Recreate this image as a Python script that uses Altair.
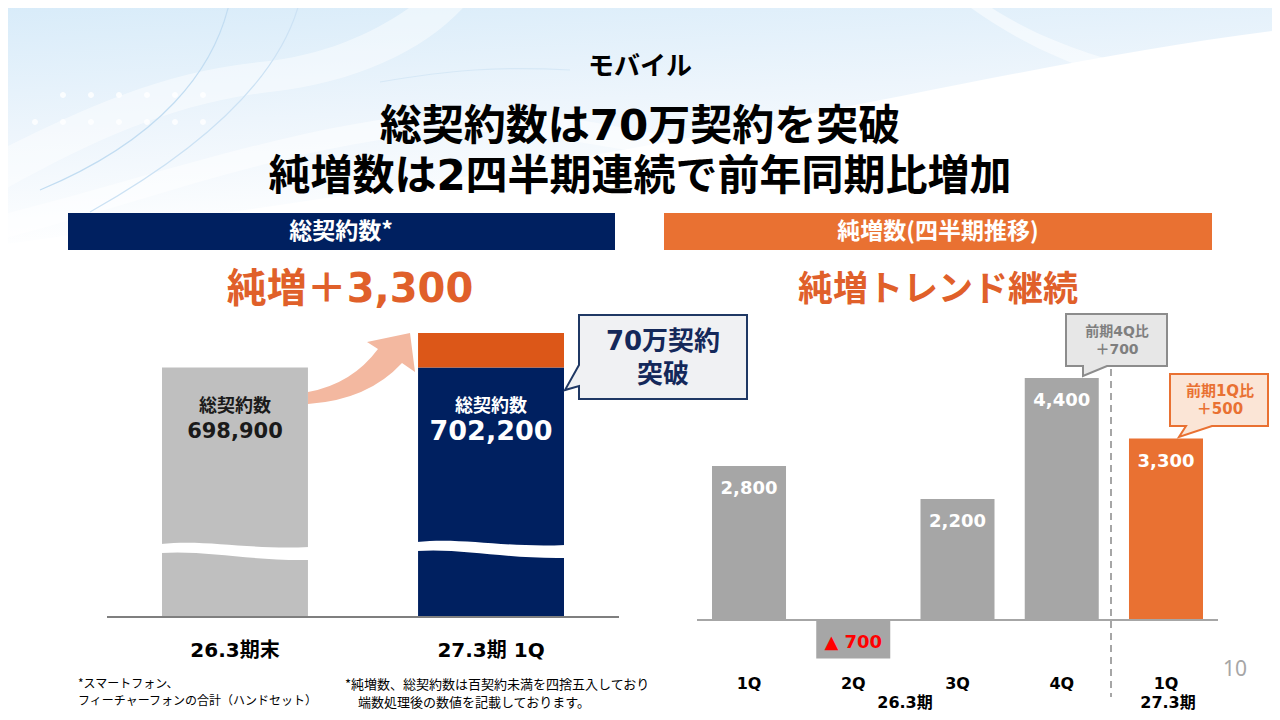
import altair as alt
import pandas as pd

# ---------------- data ----------------
total_categories = ["26.3期末", "27.3期 1Q"]
total_contracts = [698900, 702200]
total_name = "総契約数"
net_add_total = 3300

quarter_keys = ["26.3期 1Q", "26.3期 2Q", "26.3期 3Q", "26.3期 4Q", "27.3期 1Q"]
quarter_labels = ["1Q", "2Q", "3Q", "4Q", "1Q"]
quarter_fiscal = ["26.3期", "26.3期", "26.3期", "26.3期", "27.3期"]
net_adds = [2800, -700, 2200, 4400, 3300]

fiscal_groups = ["26.3期", "27.3期"]
callout_total = ["70万契約", "突破"]
callout_4q = ["前期4Q比", "＋700"]
callout_1q = ["前期1Q比", "＋500"]

# ---------------- helpers ----------------
JP = "Noto Sans CJK JP"
MIX = "DejaVu Sans, Noto Sans CJK JP"
OFF = 8  # page margin


def sx(v):
    return v - OFF


DUMMY = alt.Data(values=[{}])


def shape(path, fill="white", stroke=None, sw=0, opacity=1.0, filled=True):
    kw = dict(shape=path, size=4, opacity=1, fillOpacity=opacity if filled else 0)
    if filled:
        kw["filled"] = True
        kw["fill"] = fill
    else:
        kw["filled"] = False
    if stroke:
        kw.update(stroke=stroke, strokeWidth=sw, strokeOpacity=1)
    else:
        kw.update(strokeOpacity=0)
    return alt.Chart(DUMMY).mark_point(**kw).encode(x=alt.value(-OFF), y=alt.value(-OFF))


def label(text, x, y, size, color="#000000", weight="bold", font=JP, align="center"):
    return alt.Chart(alt.Data(values=[{"t": text}])).mark_text(
        font=font, fontSize=size, fontWeight=weight, color=color,
        align=align, baseline="middle"
    ).encode(x=alt.value(sx(x)), y=alt.value(sx(y)), text="t:N")


def rect(x0, y0, x1, y1, color):
    return alt.Chart(DUMMY).mark_rect(color=color).encode(
        x=alt.value(sx(x0)), x2=alt.value(sx(x1)),
        y=alt.value(sx(y0)), y2=alt.value(sx(y1)))


def hrule(x0, x1, y, color, width=2, dash=None):
    kw = dict(color=color, strokeWidth=width)
    if dash:
        kw["strokeDash"] = dash
    return alt.Chart(DUMMY).mark_rule(**kw).encode(
        x=alt.value(sx(x0)), x2=alt.value(sx(x1)), y=alt.value(sx(y)))


def vrule(x, y0, y1, color, width=2, dash=None):
    kw = dict(color=color, strokeWidth=width)
    if dash:
        kw["strokeDash"] = dash
    return alt.Chart(DUMMY).mark_rule(**kw).encode(
        x=alt.value(sx(x)), y=alt.value(sx(y0)), y2=alt.value(sx(y1)))


def wave(x0, x1, y0):
    w = x1 - x0
    return (f"M{x0-1},{y0+1} C{x0+0.3*w},{y0-4} {x0+0.6*w},{y0+7} {x1+1},{y0+4} "
            f"L{x1+1},{y0+17} C{x0+0.6*w},{y0+18} {x0+0.3*w},{y0+7} {x0-1},{y0+10} Z")


# ---------------- background ----------------
bg_grad = alt.LinearGradient(
    gradient="linear", x1=0, y1=0, x2=0.3, y2=1,
    stops=[alt.GradientStop(color="#D7EBF9", offset=0),
           alt.GradientStop(color="#EDF5FC", offset=0.5),
           alt.GradientStop(color="#FFFFFF", offset=0.95)])
bg = [
    shape("M0,0 L1280,0 L1280,30 C1120,50 960,85 780,120 C560,165 320,200 0,245 Z", fill=bg_grad),
    shape("M0,150 C80,110 160,72 260,62 C330,55 380,30 420,0 L470,0 C430,48 360,82 270,92 "
          "C170,104 90,142 0,192 Z", fill="#FFFFFF", opacity=0.45),
    shape("M0,215 C150,178 300,122 450,112 C560,104 640,140 780,150 L780,168 C640,162 560,128 450,132 "
          "C300,142 150,200 0,240 Z", fill="#FFFFFF", opacity=0.5),
    shape("M980,0 C1040,42 1120,72 1280,92 L1280,110 C1110,90 1030,52 960,0 Z", fill="#FFFFFF", opacity=0.5),
    shape("M230,0 C215,70 160,140 40,190", stroke="#C2DDF2", sw=1.2, filled=False),
    shape("M300,0 C280,80 200,150 90,212", stroke="#CCE2F4", sw=1.2, filled=False),
    shape("M380,82 C450,70 500,66 570,70", stroke="#D6E8F6", sw=1.2, filled=False),
    shape(" ".join(f"M{x},{y} m-3,0 a3,3 0 1,0 6,0 a3,3 0 1,0 -6,0"
                   for y, xs in [(95, range(63, 215, 28)), (122, range(35, 215, 28))] for x in xs),
          fill="#FFFFFF", opacity=0.8),
]

# ---------------- headings ----------------
heads = [
    label("モバイル", 640, 67, 26),
    label("総契約数は70万契約を突破", 640, 127, 42, font=MIX),
    label("純増数は2四半期連続で前年同期比増加", 640, 177, 42, font=MIX),
    rect(68, 213, 615, 250, "#002060"),
    rect(664, 213, 1212, 250, "#E97132"),
    label("総契約数*", 341, 232, 23, color="#FFFFFF"),
    label("純増数(四半期推移)", 938, 232, 23, color="#FFFFFF"),
    label("純増＋3,300", 350, 290, 40, color="#E0602A", font=MIX),
    label("純増トレンド継続", 938, 290, 35, color="#E0602A"),
]

# ---------------- left: total contracts ----------------
FLOOR = 675000  # broken-axis lower bound
L_X = alt.Scale(type="band", domain=total_categories, range=[sx(162), sx(564)],
                paddingInner=0.43, paddingOuter=0)
L_Y = alt.Scale(domain=[FLOOR, total_contracts[1]], range=[sx(617), sx(333)], zero=False, nice=False)

prev_level = total_contracts[1] - net_add_total
left_df = pd.DataFrame([
    {"cat": total_categories[0], "seg": "prev", "lo": FLOOR, "hi": total_contracts[0]},
    {"cat": total_categories[1], "seg": "base", "lo": FLOOR, "hi": prev_level},
    {"cat": total_categories[1], "seg": "add", "lo": prev_level, "hi": total_contracts[1]},
])
left_lab = pd.DataFrame({"cat": total_categories, "anchor": [total_contracts[0], prev_level],
                         "total": total_contracts, "name": [total_name] * 2})

lx = alt.X("cat:N", scale=L_X, axis=None)
ly = alt.Y("anchor:Q", scale=L_Y, axis=None)
left_bars = alt.Chart(left_df).mark_bar().encode(
    x=lx,
    y=alt.Y("hi:Q", scale=L_Y, axis=None),
    y2="lo:Q",
    color=alt.Color("seg:N", scale=alt.Scale(domain=["prev", "base", "add"],
                                             range=["#BFBFBF", "#002060", "#DC5718"]), legend=None),
)
lab_color = alt.Color("cat:N", scale=alt.Scale(domain=total_categories, range=["#1A1A1A", "#FFFFFF"]), legend=None)
left_names = alt.Chart(left_lab).mark_text(font=JP, fontSize=18, fontWeight="bold", dy=40, baseline="middle").encode(
    x=lx, y=ly, text="name:N", color=lab_color)
left_vals = alt.Chart(left_lab).mark_text(font=MIX, fontWeight="bold", dy=65, baseline="middle").encode(
    x=lx, y=ly, text=alt.Text("total:Q", format=","), color=lab_color,
    size=alt.Size("cat:N", scale=alt.Scale(domain=total_categories, range=[21, 27]), legend=None))
left_cats = alt.Chart(left_lab).mark_text(font=MIX, fontSize=20, fontWeight="bold", color="#000000",
                                          baseline="middle").encode(
    x=lx, y=alt.value(sx(651)), text="cat:N")

left = [
    left_bars,
    shape(wave(162, 308, 543)),
    shape(wave(418, 564, 541)),
    hrule(107, 619, 617, "#7F7F7F"),
    left_names, left_vals, left_cats,
    shape("M308,392 Q352,384 378,349 L367,342 L410,333 L415,372 L402,363 Q368,400 308,404 Z", fill="#F3B8A0"),
    shape("M579,315 L747,315 L747,399 L579,399 L579,386 L565,390 L579,365 Z",
          fill="#F0F1F3", stroke="#1F3864", sw=2),
    label(callout_total[0], 663, 342, 26, color="#14285A", font=MIX),
    label(callout_total[1], 663, 375, 26, color="#14285A"),
]

# ---------------- right: quarterly net adds ----------------
R_X = alt.Scale(type="band", domain=quarter_keys, range=[sx(712), sx(1203)],
                paddingInner=0.29, paddingOuter=0)
R_Y = alt.Scale(domain=[min(net_adds), max(net_adds)], range=[sx(658.5), sx(378)], zero=False, nice=False)

right_df = pd.DataFrame({"key": quarter_keys, "q": quarter_labels, "fy": quarter_fiscal, "v": net_adds})
right_df["label"] = [f"{v:,}" if v >= 0 else f"▲ {abs(v):,}" for v in net_adds]

rx = alt.X("key:N", scale=R_X, axis=None)
ry = alt.Y("v:Q", scale=R_Y, axis=None)
right_bars = alt.Chart(right_df).mark_bar().encode(
    x=rx, y=ry, y2=alt.datum(0),
    color=alt.Color("fy:N", scale=alt.Scale(domain=fiscal_groups, range=["#A6A6A6", "#E97132"]), legend=None))
pos_lab = alt.Chart(right_df).transform_filter("datum.v >= 0").mark_text(
    font=MIX, fontSize=18, fontWeight="bold", color="#FFFFFF", dy=23, baseline="middle").encode(
    x=rx, y=ry, text="label:N")
neg_lab = alt.Chart(right_df).transform_filter("datum.v < 0").mark_text(
    font=MIX, fontSize=18, fontWeight="bold", color="#FF0000", dy=-16, baseline="middle").encode(
    x=rx, y=ry, text="label:N")
q_lab = alt.Chart(right_df).mark_text(font=MIX, fontSize=16, fontWeight="bold", color="#000000",
                                      baseline="middle").encode(x=rx, y=alt.value(sx(684)), text="q:N")

right = [
    right_bars,
    hrule(697, 1218, 620, "#A6A6A6"),
    vrule(1111, 369, 697, "#A6A6A6", 2, [7, 5]),
    pos_lab, neg_lab, q_lab,
    label(fiscal_groups[0], 905, 703, 16, font=MIX),
    label(fiscal_groups[1], 1168, 703, 16, font=MIX),
    shape("M1066,314 L1167,314 L1167,366 L1107,366 L1083,376 L1083,366 L1066,366 Z",
          fill="#E7E7E7", stroke="#8C8C8C", sw=2),
    label(callout_4q[0], 1117, 332, 14, color="#7F7F7F", font=MIX),
    label(callout_4q[1], 1117, 350, 14, color="#7F7F7F", font=MIX),
    shape("M1170,374 L1268,374 L1268,426 L1212,426 L1179,437 L1186,426 L1170,426 Z",
          fill="#FBE5D6", stroke="#E97132", sw=2),
    label(callout_1q[0], 1220, 391, 15, color="#E97132", font=MIX),
    label(callout_1q[1], 1220, 409, 15, color="#E97132", font=MIX),
]

# ---------------- footnotes ----------------
notes = [
    label("*スマートフォン、", 78, 684, 12, weight="normal", align="left"),
    label("フィーチャーフォンの合計（ハンドセット）", 78, 701, 12, weight="normal", align="left"),
    label("*純増数、総契約数は百契約未満を四捨五入しており", 345, 685, 13, weight="normal", align="left"),
    label("端数処理後の数値を記載しております。", 358, 703, 13, weight="normal", align="left"),
    label("10", 1235, 670, 21, color="#A6A6A6", weight="normal", font="Noto Sans"),
]

chart = alt.layer(*(bg + heads + left + right + notes)).resolve_scale(
    x="independent", y="independent", color="independent", size="independent"
).properties(
    width=1264, height=704, padding=0,
    autosize=alt.AutoSizeParams(type="none"), background="#FFFFFF"
).configure_view(stroke=None)

chart.save("out.html", embed_options={"renderer": "svg", "actions": False})
